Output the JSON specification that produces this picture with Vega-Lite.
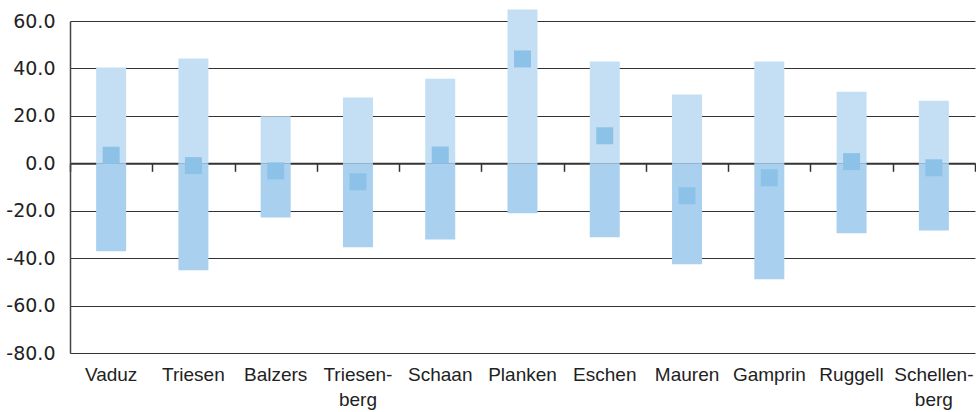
{
  "$schema": "https://vega.github.io/schema/vega-lite/v6.json",
  "width": 905,
  "height": 332,
  "autosize": {"type": "none"},
  "padding": {"left": 70, "top": 21, "right": 1, "bottom": 59},
  "background": "white",
  "config": {"view": {"stroke": null}},
  "data": {
    "values": [
      {"Gemeinde": "Vaduz", "pos": 40.4, "neg": -37.1, "net": 3.4},
      {"Gemeinde": "Triesen", "pos": 44.2, "neg": -45.1, "net": -1.0},
      {"Gemeinde": "Balzers", "pos": 19.8, "neg": -22.9, "net": -3.2},
      {"Gemeinde": "Triesenberg", "pos": 27.7, "neg": -35.4, "net": -7.8},
      {"Gemeinde": "Schaan", "pos": 35.7, "neg": -32.1, "net": 3.5},
      {"Gemeinde": "Planken", "pos": 64.8, "neg": -21.1, "net": 44.0},
      {"Gemeinde": "Eschen", "pos": 42.9, "neg": -31.2, "net": 11.6},
      {"Gemeinde": "Mauren", "pos": 29.0, "neg": -42.6, "net": -13.7},
      {"Gemeinde": "Gamprin", "pos": 42.9, "neg": -48.9, "net": -6.1},
      {"Gemeinde": "Ruggell", "pos": 30.2, "neg": -29.5, "net": 0.7},
      {"Gemeinde": "Schellenberg", "pos": 26.4, "neg": -28.3, "net": -1.9}
    ]
  },
  "layer": [
    {
      "mark": {"type": "bar", "width": 30, "color": "#c4dff3"},
      "encoding": {
        "x": {"field": "Gemeinde", "type": "nominal", "sort": null,
              "scale": {"type": "band", "paddingInner": 0, "paddingOuter": 0},
              "axis": {"orient": "bottom", "offset": -189.7, "labels": false, "title": null,
                       "domainColor": "#333", "domainWidth": 2, "ticks": true, "tickBand": "extent",
                       "tickSize": 8, "tickColor": "#333", "tickWidth": 1.5, "grid": false}},
        "y": {"field": "pos", "type": "quantitative",
              "scale": {"domain": [-80, 60], "nice": false, "zero": false},
              "axis": {"values": [-80, -60, -40, -20, 0, 20, 40, 60], "format": ".1f", "title": null,
                       "labelExpr": "replace(datum.label, '\u2212', '-')",
                       "grid": true, "gridColor": "#333", "gridWidth": 1, "gridOpacity": 1,
                       "domain": true, "domainColor": "#444", "domainWidth": 1.5,
                       "ticks": false, "labelPadding": 15,
                       "labelFont": "DejaVu Sans", "labelFontSize": 19, "labelColor": "#222"}},
        "y2": {"datum": 0}
      }
    },
    {
      "mark": {"type": "bar", "width": 30, "color": "#a9d0ef"},
      "encoding": {
        "x": {"field": "Gemeinde", "type": "nominal", "sort": null,
              "axis": {"orient": "bottom", "title": null, "domain": false, "ticks": false, "grid": false,
                       "labelAngle": 0, "labelPadding": 12,
                       "labelFont": "Liberation Sans", "labelFontSize": 19, "labelColor": "#222",
                       "labelLineHeight": 25,
                       "labelExpr": "datum.label == 'Triesenberg' ? ['Triesen-', 'berg'] : datum.label == 'Schellenberg' ? ['Schellen-', 'berg'] : datum.label"}},
        "y": {"field": "neg", "type": "quantitative"},
        "y2": {"datum": 0}
      }
    },
    {
      "mark": {"type": "point", "shape": "square", "size": 289, "filled": true, "color": "#8cc2e8", "opacity": 1, "strokeWidth": 0},
      "encoding": {
        "x": {"field": "Gemeinde", "type": "nominal", "sort": null, "axis": null},
        "y": {"field": "net", "type": "quantitative"}
      }
    }
  ],
  "resolve": {"axis": {"x": "independent"}}
}
